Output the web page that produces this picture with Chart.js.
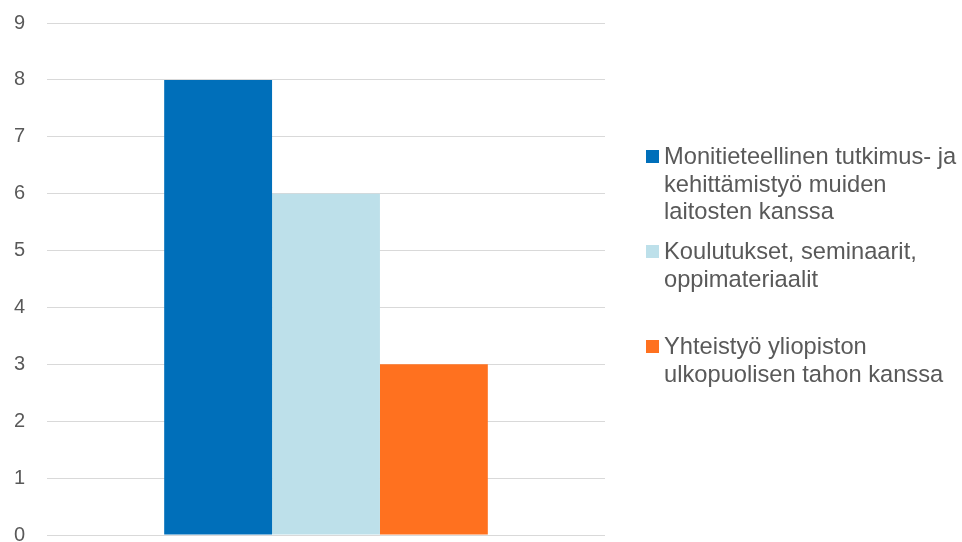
<!DOCTYPE html>
<html>
<head>
<meta charset="utf-8">
<script src="https://cdn.jsdelivr.net/npm/chart.js@4"></script>
<style>
  body { margin: 0; background: #fff; font-family: "Liberation Sans", Arial, sans-serif; }
  #wrap { position: relative; width: 962px; height: 542px; }
  #legend { position: absolute; left: 646px; top: 143px; margin: 0; padding: 0; list-style: none; }
  #legend li { position: relative; height: 95px; padding-left: 18px; color: #595959; font-size: 23.7px; line-height: 27.5px; white-space: nowrap; }
  #legend li span { position: absolute; left: 0; top: 7px; width: 13px; height: 13px; }
</style>
</head>
<body>
<div id="wrap">
  <canvas id="chart" width="962" height="542"></canvas>
  <ul id="legend"></ul>
</div>
<script>
const categories = [''];
const seriesNames = [
  ['Monitieteellinen tutkimus- ja', 'kehittämistyö muiden', 'laitosten kanssa'],
  ['Koulutukset, seminaarit,', 'oppimateriaalit'],
  ['Yhteistyö yliopiston', 'ulkopuolisen tahon kanssa']
];
const monitieteellinen = [8];
const koulutukset = [6];
const yhteistyo = [3];
const yTicks = [0, 1, 2, 3, 4, 5, 6, 7, 8, 9];
const colors = ['#006fba', '#bde0ea', '#ff711f'];

const seriesValues = [monitieteellinen, koulutukset, yhteistyo];

const ctx = document.getElementById('chart').getContext('2d');
const chart = new Chart(ctx, {
  type: 'bar',
  data: {
    labels: categories,
    datasets: seriesValues.map((vals, i) => ({
      label: seriesNames[i].join(' '),
      data: vals,
      backgroundColor: colors[i],
      borderWidth: 0,
      categoryPercentage: 0.58,
      barPercentage: 1
    }))
  },
  options: {
    responsive: false,
    animation: false,
    layout: { padding: { top: 23, right: 357, bottom: 7, left: 0 } },
    plugins: { legend: { display: false }, tooltip: { enabled: false } },
    scales: {
      x: {
        display: false,
        grid: { display: false }
      },
      y: {
        min: 0,
        max: 9,
        afterFit: s => {
          // fixed axis width, no extra room for the end labels
          s.width = 47;
          s.paddingTop = 0;
          s.paddingBottom = 0;
        },
        afterBuildTicks: s => { s.ticks = yTicks.map(v => ({ value: v })); },
        border: { display: false },
        grid: { color: '#d9d9d9', lineWidth: 1, drawTicks: false },
        ticks: {
          padding: 22,
          color: '#595959',
          font: { family: '"Liberation Sans", Arial, sans-serif', size: 20 }
        }
      }
    }
  }
});

// legend on the right, labels wrapped over several lines
const legend = document.getElementById('legend');
seriesNames.forEach((lines, i) => {
  const li = document.createElement('li');
  const box = document.createElement('span');
  box.style.background = colors[i];
  li.appendChild(box);
  li.insertAdjacentHTML('beforeend', lines.join('<br>'));
  legend.appendChild(li);
});
</script>
</body>
</html>
